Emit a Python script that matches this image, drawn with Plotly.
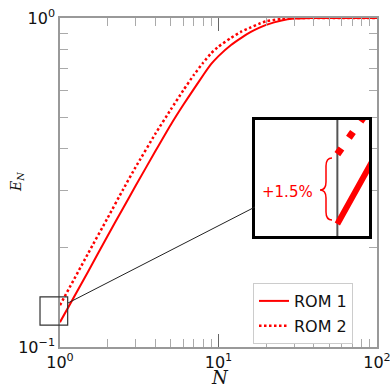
import math
import plotly.graph_objects as go

# ---- data ----
N = [1, 1.5, 2, 2.5, 3, 4, 5, 6, 7, 8, 9, 10, 12, 14, 16, 18, 20, 25, 30, 35, 40, 60, 100]
rom1 = [0.119, 0.169, 0.218, 0.264, 0.309, 0.394, 0.474, 0.545, 0.609, 0.670, 0.725,
        0.766, 0.828, 0.872, 0.907, 0.933, 0.953, 0.983, 0.996, 0.999, 1.0, 1.0, 1.0]
rom2 = [0.134, 0.192, 0.247, 0.301, 0.352, 0.445, 0.527, 0.603, 0.672, 0.731, 0.782,
        0.819, 0.870, 0.910, 0.937, 0.960, 0.977, 0.994, 1.0, 1.0, 1.0, 1.0, 1.0]
series_names = ["ROM 1", "ROM 2"]
x_major = [1, 10, 100]
x_major_text = ["10<sup>0</sup>", "10<sup>1</sup>", "10<sup>2</sup>"]
x_minor = [2, 3, 4, 5, 6, 7, 8, 9, 20, 30, 40, 50, 60, 70, 80, 90]
y_major = [0.1, 1]
y_major_text = ["10<sup>\u22121</sup>", "10<sup>0</sup>"]
y_minor = [0.2, 0.3, 0.4, 0.5, 0.6, 0.7, 0.8, 0.9]
zoom_x = [0.748, 1.118]
zoom_y = [0.1166, 0.142]
axis_at = 1
annot_text = "+1.5%"

# ---- layout geometry ----
W, H = 390, 387
ML, MR, MT, MB = 60, 13, 18, 40
PW, PH = W - ML - MR, H - MT - MB
X_RANGE = [0, 2]
Y_RANGE = [-1, 0]


def px2paper(x, y):
    """page pixel -> paper coordinates"""
    return (x - ML) / PW, (H - MB - y) / PH


def data2paper(x, y):
    return ((math.log10(x) - X_RANGE[0]) / (X_RANGE[1] - X_RANGE[0]),
            (math.log10(y) - Y_RANGE[0]) / (Y_RANGE[1] - Y_RANGE[0]))


RED = "#ff0000"
FONT = "DejaVu Sans"

fig = go.Figure()
fig.add_trace(go.Scatter(x=N, y=rom1, mode="lines", name=series_names[0],
                         line=dict(color=RED, width=2, shape="spline", smoothing=0.5),
                         legendgroup="a", xaxis="x", yaxis="y"))
fig.add_trace(go.Scatter(x=N, y=rom2, mode="lines", name=series_names[1],
                         line=dict(color=RED, width=2.5, dash="2.5px,2.5px",
                                   shape="spline", smoothing=0.5),
                         legendgroup="b", xaxis="x", yaxis="y"))
# inset (magnified) view
fig.add_trace(go.Scatter(x=[axis_at, axis_at], y=zoom_y, mode="lines", showlegend=False,
                         line=dict(color="#555555", width=2), xaxis="x2", yaxis="y2"))
fig.add_trace(go.Scatter(x=N, y=rom1, mode="lines", showlegend=False,
                         line=dict(color=RED, width=6), xaxis="x2", yaxis="y2"))
fig.add_trace(go.Scatter(x=N, y=rom2, mode="lines", showlegend=False,
                         line=dict(color=RED, width=7, dash="7px,13px"),
                         xaxis="x2", yaxis="y2"))

axis_common = dict(type="log", showgrid=False, zeroline=False, showline=True,
                   automargin=False, ticklabeloverflow="allow",
                   linecolor="#999999", linewidth=1.5, mirror="ticks",
                   ticks="inside", ticklen=13, tickwidth=1.3, tickcolor="#666666",
                   tickfont=dict(family=FONT, size=16, color="#111111"))

ix0, iy0 = px2paper(255, 236)
ix1, iy1 = px2paper(369, 120)

fig.update_layout(
    width=W, height=H,
    margin=dict(l=ML, r=MR, t=MT, b=MB, autoexpand=False),
    paper_bgcolor="white", plot_bgcolor="white",
    font=dict(family=FONT),
    xaxis=dict(range=X_RANGE, tickvals=x_major, ticktext=x_major_text,
               minor=dict(tickvals=x_minor, ticks="inside", ticklen=8,
                          tickcolor="#aaaaaa", tickwidth=1.2),
               **axis_common),
    yaxis=dict(range=Y_RANGE, tickvals=y_major, ticktext=y_major_text,
               minor=dict(tickvals=y_minor, ticks="inside", ticklen=8,
                          tickcolor="#aaaaaa", tickwidth=1.2),
               **axis_common),
    xaxis2=dict(type="log", domain=[ix0, ix1], anchor="y2", automargin=False,
                range=[math.log10(zoom_x[0]), math.log10(zoom_x[1])],
                showgrid=False, zeroline=False, showticklabels=False, ticks="",
                showline=True, mirror=True, linecolor="black", linewidth=3),
    yaxis2=dict(type="log", domain=[iy0, iy1], anchor="x2", automargin=False,
                range=[math.log10(zoom_y[0]), math.log10(zoom_y[1])],
                showgrid=False, zeroline=False, showticklabels=False, ticks="",
                showline=True, mirror=True, linecolor="black", linewidth=3),
    legend=dict(x=px2paper(253, 0)[0], y=px2paper(0, 283)[1],
                xanchor="left", yanchor="top",
                font=dict(family=FONT, size=16, color="#111111"),
                bordercolor="#cccccc", borderwidth=1, bgcolor="white",
                tracegroupgap=1),
    showlegend=True,
)

shapes = []
# small zoom rectangle on the main axes
rx0, ry0 = data2paper(zoom_x[0], zoom_y[0])
rx1, ry1 = data2paper(zoom_x[1], zoom_y[1])
shapes.append(dict(type="rect", xref="paper", yref="paper", x0=rx0, y0=ry0, x1=rx1, y1=ry1,
                   line=dict(color="#333333", width=1.2), fillcolor="rgba(0,0,0,0)"))
# connector line
cx0, cy0 = px2paper(68, 303)
cx1, cy1 = px2paper(255, 207)
shapes.append(dict(type="line", xref="paper", yref="paper", x0=cx0, y0=cy0, x1=cx1, y1=cy1,
                   line=dict(color="#222222", width=1)))
# curly brace
pts = [(332, 158), (326, 158), (326, 166), (326, 182), (326, 190), (320, 190),
       (326, 190), (326, 198), (326, 212), (326, 220), (332, 220)]
pp = [px2paper(a, b) for a, b in pts]
path = "M {0},{1} Q {2},{3} {4},{5} L {6},{7} Q {8},{9} {10},{11} Q {12},{13} {14},{15} L {16},{17} Q {18},{19} {20},{21}".format(
    *[v for p in pp for v in p])
shapes.append(dict(type="path", xref="paper", yref="paper", path=path,
                   line=dict(color=RED, width=1.5)))
fig.update_layout(shapes=shapes)

ax, ay = px2paper(287, 192)
tx, ty = px2paper(220, 377)
ex, ey = px2paper(17, 182)
common_ann = dict(xref="paper", yref="paper", showarrow=False,
                  xanchor="center", yanchor="middle")
fig.update_layout(annotations=[
    dict(x=ax, y=ay, text=annot_text,
         font=dict(family=FONT, size=15, color=RED), **common_ann),
    dict(x=tx, y=ty, text="<i>N</i>",
         font=dict(family="DejaVu Serif", size=18, color="#111111"), **common_ann),
    dict(x=ex, y=ey, text="<i>E</i><sub><i>N</i></sub>", textangle=-90,
         font=dict(family="DejaVu Serif", size=14, color="#111111"), **common_ann),
])

fig.write_html(
    "out.html",
    config={"displayModeBar": False},
    post_script="document.body.style.margin='0';document.body.style.overflow='hidden';",
)
